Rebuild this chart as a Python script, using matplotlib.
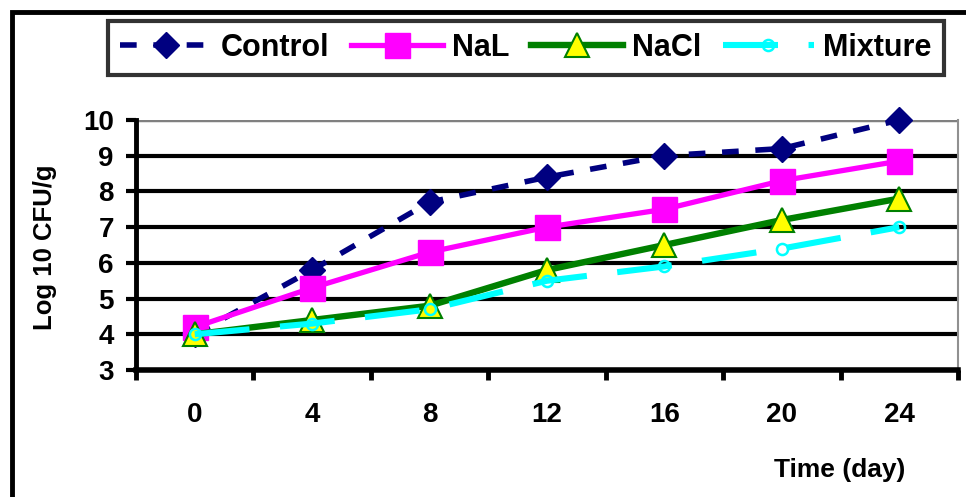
import matplotlib
matplotlib.use("Agg")
import matplotlib.pyplot as plt
from matplotlib.patches import Rectangle

plt.rcParams['font.family'] = ['Liberation Sans', 'DejaVu Sans']
plt.rcParams['font.weight'] = 'bold'

# storage time (days) and counts (log10 CFU/g)
days = ["0", "4", "8", "12", "16", "20", "24"]
control = [4.0, 5.8, 7.7, 8.4, 9.0, 9.2, 10.0]
nal = [4.2, 5.3, 6.3, 7.0, 7.5, 8.3, 8.85]
nacl = [4.0, 4.4, 4.8, 5.8, 6.5, 7.2, 7.8]
mixture = [4.0, 4.3, 4.7, 5.5, 5.9, 6.4, 7.0]
yticks = [3, 4, 5, 6, 7, 8, 9, 10]

fig = plt.figure(figsize=(9.66, 4.97), dpi=100)
ax = fig.add_axes([136/966, 1-370/497, 822/966, 250/497])

# outer chart frame
fig.patches.append(Rectangle((12/966, -0.1), 1.2, 1-12/497+0.1, transform=fig.transFigure,
                             fill=False, edgecolor='black', linewidth=3.5, zorder=0))

x = list(range(len(days)))
ax.plot(x, control, color='#000080', linestyle=(0, (3, 3)), linewidth=4,
        marker='D', markersize=13, label='Control', zorder=3, clip_on=False)
ax.plot(x, nal, color='#ff00ff', linestyle='-', linewidth=3.8,
        marker='s', markersize=18, label='NaL', zorder=4, clip_on=False)
ax.plot(x, nacl, color='#008000', linestyle='-', linewidth=4.6,
        marker='^', markersize=17, markerfacecolor='#ffff00', markeredgecolor='#008000',
        markeredgewidth=1.5, label='NaCl', zorder=5, clip_on=False)
ax.plot(x, mixture, color='#00ffff', linestyle=(0, (9, 5)), linewidth=4.4,
        marker='o', markersize=8, markerfacecolor='none', markeredgecolor='#00ffff',
        markeredgewidth=1.8, label='Mixture', zorder=6, clip_on=False)

ax.set_xlim(-0.5, 6.5)
ax.set_ylim(3, 10)
ax.set_yticks(yticks)
ax.set_yticklabels([str(v) for v in yticks], fontsize=20, fontweight='bold')
ax.set_xticks([i + 0.5 for i in range(-1, 7)])
ax.set_xticklabels([])
ax.set_xticks(x, minor=True)
ax.set_xticklabels(days, minor=True, fontsize=20, fontweight='bold')
ax.tick_params(axis='x', which='minor', length=0, pad=23)
ax.tick_params(axis='x', which='major', length=7, width=3.5, direction='out')
ax.tick_params(axis='y', length=7, width=3, direction='out', pad=9)

for v in yticks[1:-1]:
    ax.axhline(v, color='black', linewidth=3, zorder=1)
ax.axhline(10, color='#808080', linewidth=2.5, zorder=1)

ax.spines['left'].set_linewidth(3.5)
ax.spines['bottom'].set_linewidth(4)
ax.spines['right'].set_color('#909090')
ax.spines['right'].set_linewidth(1.5)
ax.spines['top'].set_visible(False)

fig.text(45/966, 1-247/497, 'Log 10 CFU/g', rotation=90, ha='center', va='center',
         fontsize=18.5, fontweight='bold')
fig.text(840/966, 1-470/497, 'Time (day)', ha='center', va='center',
         fontsize=19, fontweight='bold')

leg = fig.legend(loc='lower left', bbox_to_anchor=(108/966, 1-75/497, 836/966, 59/497),
                 mode='expand', ncol=4, frameon=True, fancybox=False, handlelength=3.0,
                 handletextpad=0.3, columnspacing=0.4, borderaxespad=0,
                 prop={'size': 22, 'weight': 'bold'})
leg.get_frame().set_edgecolor('black')
leg.get_frame().set_linewidth(3)

fig.savefig('out.png', dpi=100)
